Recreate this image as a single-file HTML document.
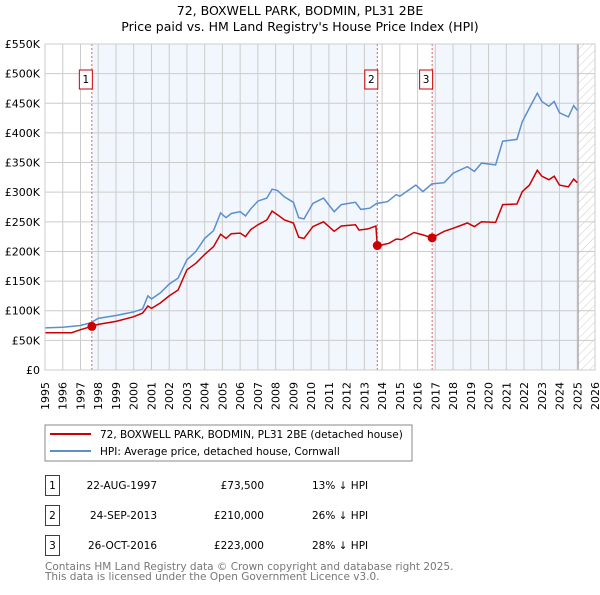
<!DOCTYPE html>
<html><head><meta charset="utf-8"><style>
body{margin:0;background:#fff;font-family:"Liberation Sans","DejaVu Sans",sans-serif;}
svg text{font-family:"DejaVu Sans","Liberation Sans",sans-serif;}
</style></head><body>
<svg id="c" width="600" height="590" xmlns="http://www.w3.org/2000/svg">
<defs><pattern id="hatch" width="6" height="6" patternUnits="userSpaceOnUse" patternTransform="rotate(45)"><line x1="0" y1="0" x2="0" y2="6" stroke="#ccc" stroke-width="1"/></pattern></defs>
<text x="300" y="15" text-anchor="middle" font-size="12.5">72, BOXWELL PARK, BODMIN, PL31 2BE</text>
<text x="300" y="31" text-anchor="middle" font-size="12.5">Price paid vs. HM Land Registry's House Price Index (HPI)</text>
<g id="plot"></g>
<rect x="45" y="425" width="367" height="36" fill="#fff" stroke="#888"/>
<line x1="50" y1="434" x2="91" y2="434" stroke="#cc0000" stroke-width="2"/>
<text x="100" y="438" font-size="10.5">72, BOXWELL PARK, BODMIN, PL31 2BE (detached house)</text>
<line x1="50" y1="451" x2="91" y2="451" stroke="#5b8fd0" stroke-width="2"/>
<text x="100" y="455" font-size="10.5">HPI: Average price, detached house, Cornwall</text>
<g font-size="10.5">
<rect x="45.5" y="475.5" width="14" height="20" fill="none" stroke="#cc0000"/><text x="52.5" y="489" text-anchor="middle">1</text>
<text x="157" y="489" text-anchor="end">22-AUG-1997</text><text x="264" y="489" text-anchor="end">£73,500</text><text x="312" y="489">13% ↓ HPI</text>
<rect x="45.5" y="505.5" width="14" height="20" fill="none" stroke="#cc0000"/><text x="52.5" y="519" text-anchor="middle">2</text>
<text x="157" y="519" text-anchor="end">24-SEP-2013</text><text x="264" y="519" text-anchor="end">£210,000</text><text x="312" y="519">26% ↓ HPI</text>
<rect x="45.5" y="535.5" width="14" height="20" fill="none" stroke="#cc0000"/><text x="52.5" y="549" text-anchor="middle">3</text>
<text x="157" y="549" text-anchor="end">26-OCT-2016</text><text x="264" y="549" text-anchor="end">£223,000</text><text x="312" y="549">28% ↓ HPI</text>
</g>
<text x="45" y="570" font-size="10.5" fill="#777">Contains HM Land Registry data © Crown copyright and database right 2025.</text>
<text x="45" y="580" font-size="10.5" fill="#777">This data is licensed under the Open Government Licence v3.0.</text>
</svg>
<script>
const yTicks=[0,50,100,150,200,250,300,350,400,450,500,550];
const yLabels=["£0","£50K","£100K","£150K","£200K","£250K","£300K","£350K","£400K","£450K","£500K","£550K"];
const years=[1995,1996,1997,1998,1999,2000,2001,2002,2003,2004,2005,2006,2007,2008,2009,2010,2011,2012,2013,2014,2015,2016,2017,2018,2019,2020,2021,2022,2023,2024,2025,2026];
const saleT=[1997.64,2013.73,2016.82];
const saleV=[73.5,210,223];
const hpiT=[1995,1996,1997,1997.6,1998,1999,2000,2000.5,2000.8,2001,2001.5,2002,2002.5,2003,2003.5,2004,2004.5,2004.9,2005.2,2005.5,2006,2006.3,2006.6,2007,2007.5,2007.8,2008.1,2008.5,2009,2009.3,2009.6,2010.1,2010.7,2011.3,2011.7,2012.5,2012.8,2013.3,2013.7,2014.3,2014.8,2015,2015.9,2016.3,2016.8,2017.5,2018,2018.8,2019.2,2019.6,2020.4,2020.8,2021.6,2021.9,2022.3,2022.75,2023,2023.4,2023.7,2024,2024.5,2024.8,2025];
const hpiV=[71,72,75,80,87,92,98,103,125,120,130,145,155,186,200,222,235,265,257,264,267,260,272,285,290,305,303,292,283,257,255,281,290,267,279,283,271,273,281,284,296,293,312,301,314,316,332,343,335,349,346,386,389,419,442,467,453,445,453,434,427,446,438];
const ppT=[1995,1996,1996.5,1997,1997.64,1998,1999,2000,2000.5,2000.8,2001,2001.5,2002,2002.5,2003,2003.5,2004,2004.5,2004.9,2005.2,2005.5,2006,2006.3,2006.6,2007,2007.5,2007.8,2008.1,2008.5,2009,2009.3,2009.6,2010.1,2010.7,2011.3,2011.7,2012.5,2012.7,2013.2,2013.65,2013.73,2014.4,2014.8,2015.1,2015.8,2016.3,2016.82,2017.5,2018,2018.8,2019.2,2019.6,2020.4,2020.8,2021.6,2021.9,2022.3,2022.75,2023,2023.4,2023.7,2024,2024.5,2024.8,2025];
const ppV=[63,63,63,68,73.5,77,82,90,96,108,104,113,125,135,169,180,195,208,229,222,230,231,225,237,245,253,268,262,253,248,224,222,242,250,234,243,245,236,238,243,209,214,221,220,232,228,223,234,239,248,242,250,249,279,280,301,312,337,327,321,327,312,309,322,316];
const X0=45,X1=595,Y0=370,Y1=44;
const x=t=>X0+(t-1995)/31*(X1-X0);
const y=v=>Y0-v/550*(Y0-Y1);
const NS="http://www.w3.org/2000/svg";
const g=document.getElementById('plot');
function mk(tag,attrs,parent){const e=document.createElementNS(NS,tag);for(const k in attrs)e.setAttribute(k,attrs[k]);(parent||g).appendChild(e);return e;}
let e;
e=mk('rect',{x:x(saleT[0]),y:Y1,width:x(saleT[1])-x(saleT[0]),height:Y0-Y1,fill:'#f2f6fd'});


e=mk('rect',{x:x(saleT[2]),y:Y1,width:x(2025.05)-x(saleT[2]),height:Y0-Y1,fill:'#f2f6fd'});


e=mk('rect',{x:x(2025.05),y:Y1,width:X1-x(2025.05),height:Y0-Y1,fill:'url(#hatch)'});


years.forEach(yr=>{
 e=mk('line',{x1:x(yr),x2:x(yr),y1:Y1,y2:Y0,stroke:'#ccc','stroke-width':1});
 
 
 const tx=x(yr)+4, ty=382;
 e=mk('text',{x:tx,y:ty,'text-anchor':'end','font-size':11,transform:'rotate(-90 '+tx+' '+ty+')'});
 e.textContent=yr;
 
 
});
yTicks.forEach((v,i)=>{
 e=mk('line',{x1:X0,x2:X1,y1:y(v),y2:y(v),stroke:'#ccc','stroke-width':1});
 
 
 e=mk('text',{x:40,y:y(v)+4,'text-anchor':'end','font-size':11});
 e.textContent=yLabels[i];
 
 
});
e=mk('line',{x1:x(2025.05),x2:x(2025.05),y1:Y1,y2:Y0,stroke:'#999','stroke-width':1});


saleT.forEach((t,i)=>{
 e=mk('line',{x1:x(t),x2:x(t),y1:Y1,y2:Y0,stroke:'#e06060','stroke-width':1,'stroke-dasharray':'2,2'});
 
 
 e=mk('rect',{x:x(t)-12.5,y:70,width:13,height:19,fill:'#fff',stroke:'#cc0000'});
 
 
 e=mk('text',{x:x(t)-6,y:83,'text-anchor':'middle','font-size':10.5});
 e.textContent=String(i+1);
 
 
});
e=mk('path',{d:hpiT.map((t,i)=>(i?'L':'M')+x(t).toFixed(1)+','+y(hpiV[i]).toFixed(1)).join(''),fill:'none',stroke:'#5b8fd0','stroke-width':1.5});


e=mk('path',{d:ppT.map((t,i)=>(i?'L':'M')+x(t).toFixed(1)+','+y(ppV[i]).toFixed(1)).join(''),fill:'none',stroke:'#cc0000','stroke-width':1.5});


saleT.forEach((t,i)=>{
 e=mk('circle',{cx:x(t),cy:y(saleV[i]),r:4.5,fill:'#cc0000'});
 
 
});
e=mk('rect',{x:X0,y:Y1,width:X1-X0,height:Y0-Y1,fill:'none',stroke:'#ccc'});


</script>
</body></html>
